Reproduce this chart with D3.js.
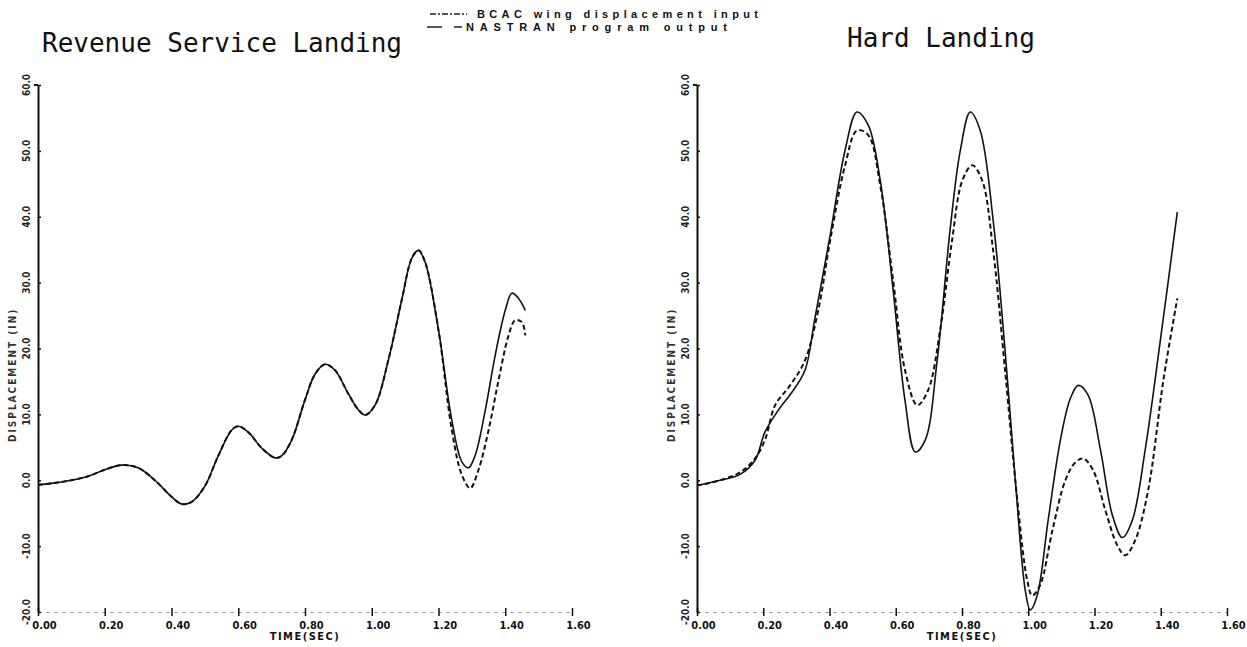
<!DOCTYPE html>
<html>
<head>
<meta charset="utf-8">
<script src="https://cdn.jsdelivr.net/npm/d3@7"></script>
<style>
  html, body { margin: 0; padding: 0; background: #fff; }
  svg { display: block; }
</style>
</head>
<body>
<svg id="chart" width="1247" height="647"></svg>
<script>
// ---------------- data ----------------
const panelTitles = ["Revenue Service Landing", "Hard Landing"];
const legendLabels = ["BCAC wing displacement input", "NASTRAN program output"];
const xTickValues = [0, 0.2, 0.4, 0.6, 0.8, 1.0, 1.2, 1.4, 1.6];
const xTickLabels = ["0.00", "0.20", "0.40", "0.60", "0.80", "1.00", "1.20", "1.40", "1.60"];
const yTickValues = [-20, -10, 0, 10, 20, 30, 40, 50, 60];
const yTickLabels = ["-20.0", "-10.0", "0.0", "10.0", "20.0", "30.0", "40.0", "50.0", "60.0"];
const xAxisTitle = "TIME(SEC)";
const yAxisTitle = "DISPLACEMENT (IN)";

// Revenue service landing
const revInputTime = [0, 0.05, 0.10, 0.15, 0.20, 0.25, 0.30, 0.35, 0.40, 0.43, 0.46, 0.50, 0.54, 0.58, 0.60, 0.63, 0.67, 0.71, 0.73, 0.76, 0.80, 0.83, 0.86, 0.89, 0.93, 0.96, 0.98, 1.01, 1.05, 1.09, 1.12, 1.14, 1.16, 1.20, 1.24, 1.27, 1.29, 1.31, 1.34, 1.37, 1.40, 1.42, 1.44, 1.46];
const revInput = [-0.7, -0.4, 0.0, 0.6, 1.6, 2.3, 1.9, 0.0, -2.5, -3.6, -3.3, -0.9, 3.7, 7.6, 8.2, 7.3, 4.9, 3.4, 3.7, 6.1, 12.2, 16.1, 17.6, 16.7, 13.1, 10.7, 9.9, 11.4, 18.3, 27.4, 33.7, 34.9, 33.1, 22.8, 9.1, 2.8, 1.9, 3.8, 10.6, 19.0, 25.8, 28.4, 27.6, 25.8];
const revOutputTime = [0, 0.05, 0.10, 0.15, 0.20, 0.25, 0.30, 0.35, 0.40, 0.43, 0.46, 0.50, 0.54, 0.58, 0.60, 0.63, 0.67, 0.71, 0.73, 0.76, 0.80, 0.83, 0.86, 0.89, 0.93, 0.96, 0.98, 1.01, 1.05, 1.09, 1.12, 1.14, 1.16, 1.20, 1.24, 1.27, 1.295, 1.32, 1.35, 1.38, 1.41, 1.43, 1.45, 1.46];
const revOutput = [-0.7, -0.4, 0.0, 0.6, 1.6, 2.3, 1.9, 0.0, -2.5, -3.6, -3.3, -0.9, 3.7, 7.6, 8.2, 7.3, 4.9, 3.4, 3.7, 6.1, 12.2, 16.1, 17.6, 16.7, 13.1, 10.7, 9.9, 11.4, 18.3, 27.4, 33.7, 34.9, 33.1, 22.8, 7.6, 0.8, -1.2, 1.6, 7.6, 15.2, 22.0, 24.3, 24.0, 22.0];

// Hard landing
const hardInputTime = [0, 0.07, 0.13, 0.175, 0.205, 0.245, 0.287, 0.326, 0.356, 0.402, 0.447, 0.483, 0.517, 0.553, 0.592, 0.628, 0.659, 0.689, 0.725, 0.764, 0.795, 0.825, 0.855, 0.894, 0.930, 0.961, 0.991, 1.006, 1.027, 1.060, 1.097, 1.127, 1.151, 1.181, 1.218, 1.254, 1.284, 1.314, 1.353, 1.399, 1.450];
const hardInput = [-0.8, 0.0, 0.9, 3.0, 7.3, 10.6, 13.4, 16.7, 24.6, 37.2, 50.1, 55.9, 53.9, 45.6, 28.9, 12.1, 4.3, 6.1, 18.2, 38.0, 50.1, 55.9, 53.1, 39.5, 19.7, 0.0, -16.7, -19.7, -17.5, -6.1, 6.1, 12.4, 14.4, 12.9, 4.6, -5.3, -8.7, -6.1, 4.6, 21.3, 40.7];
const hardOutputTime = [0, 0.07, 0.13, 0.175, 0.205, 0.236, 0.281, 0.326, 0.366, 0.402, 0.447, 0.483, 0.517, 0.553, 0.592, 0.628, 0.665, 0.698, 0.734, 0.770, 0.801, 0.831, 0.861, 0.894, 0.930, 0.967, 0.997, 1.012, 1.036, 1.073, 1.112, 1.142, 1.166, 1.196, 1.233, 1.269, 1.293, 1.323, 1.362, 1.408, 1.450];
const hardOutput = [-0.8, 0.0, 1.2, 3.3, 6.1, 11.4, 14.4, 18.2, 25.8, 36.4, 47.8, 53.1, 52.4, 44.8, 30.4, 16.7, 11.4, 13.7, 22.8, 36.4, 45.5, 47.8, 45.5, 34.9, 16.7, -3.0, -15.2, -17.5, -15.9, -7.6, 0.0, 2.7, 3.3, 1.5, -4.6, -9.9, -11.4, -9.1, -1.5, 15.2, 27.6];

// ---------------- drawing ----------------
const svg = d3.select("#chart");
const monoFont = "'DejaVu Sans Mono', 'Liberation Mono', monospace";
const labelFont = "'DejaVu Sans Condensed', 'DejaVu Sans', sans-serif";

const panels = [
  { title: panelTitles[0], titleX: 42, titleY: 52, axisX: 38, x1: 572,
    inT: revInputTime, inV: revInput, outT: revOutputTime, outV: revOutput },
  { title: panelTitles[1], titleX: 847, titleY: 47, axisX: 697, x1: 1227,
    inT: hardInputTime, inV: hardInput, outT: hardOutputTime, outV: hardOutput }
];

const yTop = 85, yBottom = 612;

panels.forEach(p => {
  const x = d3.scaleLinear().domain([0, 1.6]).range([p.axisX, p.x1]);
  const y = d3.scaleLinear().domain([-20, 60]).range([yBottom, yTop]);
  const g = svg.append("g");

  // title
  g.append("text")
    .attr("x", p.titleX).attr("y", p.titleY)
    .attr("font-family", monoFont).attr("font-size", 26)
    .attr("fill", "#111")
    .text(p.title);

  // x axis
  const xAxis = d3.axisBottom(x).tickValues(xTickValues)
    .tickFormat((d, i) => xTickLabels[i]).tickSize(5).tickSizeOuter(0);
  const xg = g.append("g").attr("transform", `translate(0,${yBottom})`).call(xAxis);
  xg.select(".domain").attr("stroke", "#888").attr("stroke-width", 1)
    .attr("stroke-dasharray", "3,5");
  xg.selectAll(".tick line").attr("stroke", "#111").attr("stroke-width", 1.5)
    .attr("y1", -4).attr("y2", 4);
  xg.selectAll(".tick text")
    .attr("font-family", labelFont).attr("font-weight", "bold")
    .attr("font-size", 11).attr("fill", "#111")
    .attr("dx", 6).attr("y", 9);

  g.append("text")
    .attr("x", x(0.8)).attr("y", 640)
    .attr("text-anchor", "middle")
    .attr("font-family", labelFont).attr("font-weight", "bold")
    .attr("font-size", 11).attr("letter-spacing", 1.5).attr("fill", "#111")
    .text(xAxisTitle);

  // y axis
  const yAxis = d3.axisRight(y).tickValues(yTickValues).tickFormat("").tickSize(3).tickSizeOuter(0);
  const yg = g.append("g").attr("transform", `translate(${p.axisX},0)`).call(yAxis);
  yg.select(".domain").attr("stroke", "#111").attr("stroke-width", 2);
  yg.selectAll(".tick line").attr("stroke", "#111").attr("stroke-width", 1.5);
  g.append("line")
    .attr("x1", p.axisX - 4).attr("x2", p.axisX)
    .attr("y1", y(60)).attr("y2", y(60))
    .attr("stroke", "#111").attr("stroke-width", 2);

  g.selectAll(".ylab").data(yTickValues).enter().append("text")
    .attr("class", "ylab")
    .attr("transform", d => `translate(${p.axisX - 8},${y(d)}) rotate(-90)`)
    .attr("text-anchor", "middle")
    .attr("font-family", labelFont).attr("font-weight", "bold")
    .attr("font-size", 10).attr("fill", "#222")
    .text((d, i) => yTickLabels[i]);

  g.append("text")
    .attr("transform", `translate(${p.axisX - 22},${(y(-8) + y(40)) / 2}) rotate(-90)`)
    .attr("text-anchor", "middle")
    .attr("font-family", labelFont).attr("font-weight", "bold")
    .attr("font-size", 10).attr("letter-spacing", 2).attr("fill", "#333")
    .text(yAxisTitle);

  // curves
  const line = d3.line().x(d => x(d[0])).y(d => y(d[1])).curve(d3.curveCatmullRom.alpha(0.5));
  const inData = p.inT.map((t, i) => [t, p.inV[i]]);
  const outData = p.outT.map((t, i) => [t, p.outV[i]]);

  g.append("path").datum(outData)
    .attr("d", line).attr("fill", "none")
    .attr("stroke", "#111").attr("stroke-width", 2)
    .attr("stroke-dasharray", "5,3");
  g.append("path").datum(inData)
    .attr("d", line).attr("fill", "none")
    .attr("stroke", "#111").attr("stroke-width", 1.6);
});

// legend
const leg = svg.append("g");
leg.append("line").attr("x1", 430).attr("x2", 467).attr("y1", 14).attr("y2", 14)
  .attr("stroke", "#222").attr("stroke-width", 1.5).attr("stroke-dasharray", "6,2,2,2");
leg.append("line").attr("x1", 427).attr("x2", 462).attr("y1", 27).attr("y2", 27)
  .attr("stroke", "#222").attr("stroke-width", 1.5).attr("stroke-dasharray", "15,12");
leg.append("text").attr("x", 477).attr("y", 18)
  .attr("font-family", "'Liberation Sans', Arial, sans-serif").attr("font-weight", "bold")
  .attr("font-size", 11).attr("fill", "#111")
  .attr("textLength", 281).attr("lengthAdjust", "spacing")
  .text(legendLabels[0]);
leg.append("text").attr("x", 466).attr("y", 31)
  .attr("font-family", "'Liberation Sans', Arial, sans-serif").attr("font-weight", "bold")
  .attr("font-size", 11).attr("fill", "#111")
  .attr("textLength", 261).attr("lengthAdjust", "spacing")
  .text(legendLabels[1]);
</script>
</body>
</html>
